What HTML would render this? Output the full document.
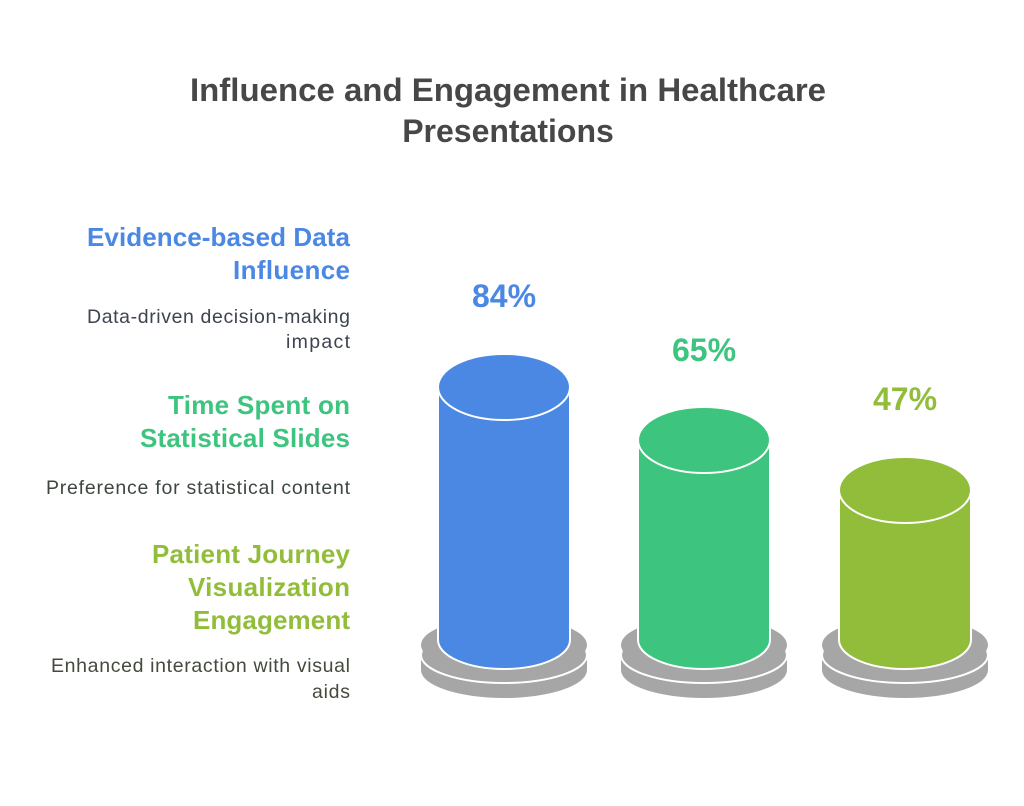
<!DOCTYPE html>
<html><head><meta charset="utf-8"><style>html,body{margin:0;padding:0;background:#fff}svg{display:block}</style></head>
<body>
<svg width="1024" height="806" viewBox="0 0 1024 806" xmlns="http://www.w3.org/2000/svg" font-family="Liberation Sans, sans-serif">
<rect width="1024" height="806" fill="#fff"/>
<g font-weight="bold" font-size="32" fill="#474747" text-anchor="middle">
<text x="508" y="101" textLength="636" lengthAdjust="spacingAndGlyphs">Influence and Engagement in Healthcare</text>
<text x="508" y="142">Presentations</text>
</g>
<g text-anchor="end" lengthAdjust="spacingAndGlyphs">
<g font-weight="bold" font-size="26">
<text x="350" y="246" fill="#4a88e4" textLength="263">Evidence-based Data</text>
<text x="350" y="279" fill="#4a88e4" textLength="117">Influence</text>
<text x="350" y="414" fill="#3dc47e" textLength="182">Time Spent on</text>
<text x="350" y="447" fill="#3dc47e" textLength="210">Statistical Slides</text>
<text x="350" y="563" fill="#92bd3a" textLength="198">Patient Journey</text>
<text x="350" y="596" fill="#92bd3a" textLength="162">Visualization</text>
<text x="350" y="629" fill="#92bd3a" textLength="157">Engagement</text>
</g>
<g font-size="19.5">
<text x="350" y="323" fill="#3d4450" textLength="263">Data-driven decision-making</text>
<text x="350" y="348" fill="#3d4450" textLength="64">impact</text>
<text x="350" y="494" fill="#3d463f" textLength="304">Preference for statistical content</text>
<text x="350" y="672" fill="#444a3c" textLength="299">Enhanced interaction with visual</text>
<text x="350" y="698" fill="#444a3c" textLength="38">aids</text>
</g>
</g>
<g font-weight="bold" font-size="32" text-anchor="middle">
<text x="504" y="307" fill="#4a88e4">84%</text>
<text x="704" y="361" fill="#3dc47e">65%</text>
<text x="905" y="410" fill="#92bd3a">47%</text>
</g>
<g>
<ellipse cx="504" cy="670" rx="83" ry="28" fill="#a6a6a6"/>
<rect x="421" y="655" width="166" height="15" fill="#a6a6a6"/>
<ellipse cx="504" cy="655" rx="83" ry="28" fill="#a6a6a6" stroke="#fff" stroke-width="2"/>
<ellipse cx="504" cy="645" rx="83" ry="28" fill="#a6a6a6"/>
<path d="M438 387 L438 640 A66 29 0 0 0 570 640 L570 387 Z" fill="#4a88e4" stroke="#fff" stroke-width="2"/>
<ellipse cx="504" cy="387" rx="66" ry="33" fill="#4a88e4" stroke="#fff" stroke-width="2"/>
</g>
<g>
<ellipse cx="704" cy="670" rx="83" ry="28" fill="#a6a6a6"/>
<rect x="621" y="655" width="166" height="15" fill="#a6a6a6"/>
<ellipse cx="704" cy="655" rx="83" ry="28" fill="#a6a6a6" stroke="#fff" stroke-width="2"/>
<ellipse cx="704" cy="645" rx="83" ry="28" fill="#a6a6a6"/>
<path d="M638 440 L638 640 A66 29 0 0 0 770 640 L770 440 Z" fill="#3dc47e" stroke="#fff" stroke-width="2"/>
<ellipse cx="704" cy="440" rx="66" ry="33" fill="#3dc47e" stroke="#fff" stroke-width="2"/>
</g>
<g>
<ellipse cx="905" cy="670" rx="83" ry="28" fill="#a6a6a6"/>
<rect x="822" y="655" width="166" height="15" fill="#a6a6a6"/>
<ellipse cx="905" cy="655" rx="83" ry="28" fill="#a6a6a6" stroke="#fff" stroke-width="2"/>
<ellipse cx="905" cy="645" rx="83" ry="28" fill="#a6a6a6"/>
<path d="M839 490 L839 640 A66 29 0 0 0 971 640 L971 490 Z" fill="#92bd3a" stroke="#fff" stroke-width="2"/>
<ellipse cx="905" cy="490" rx="66" ry="33" fill="#92bd3a" stroke="#fff" stroke-width="2"/>
</g>
</svg>
</body></html>
